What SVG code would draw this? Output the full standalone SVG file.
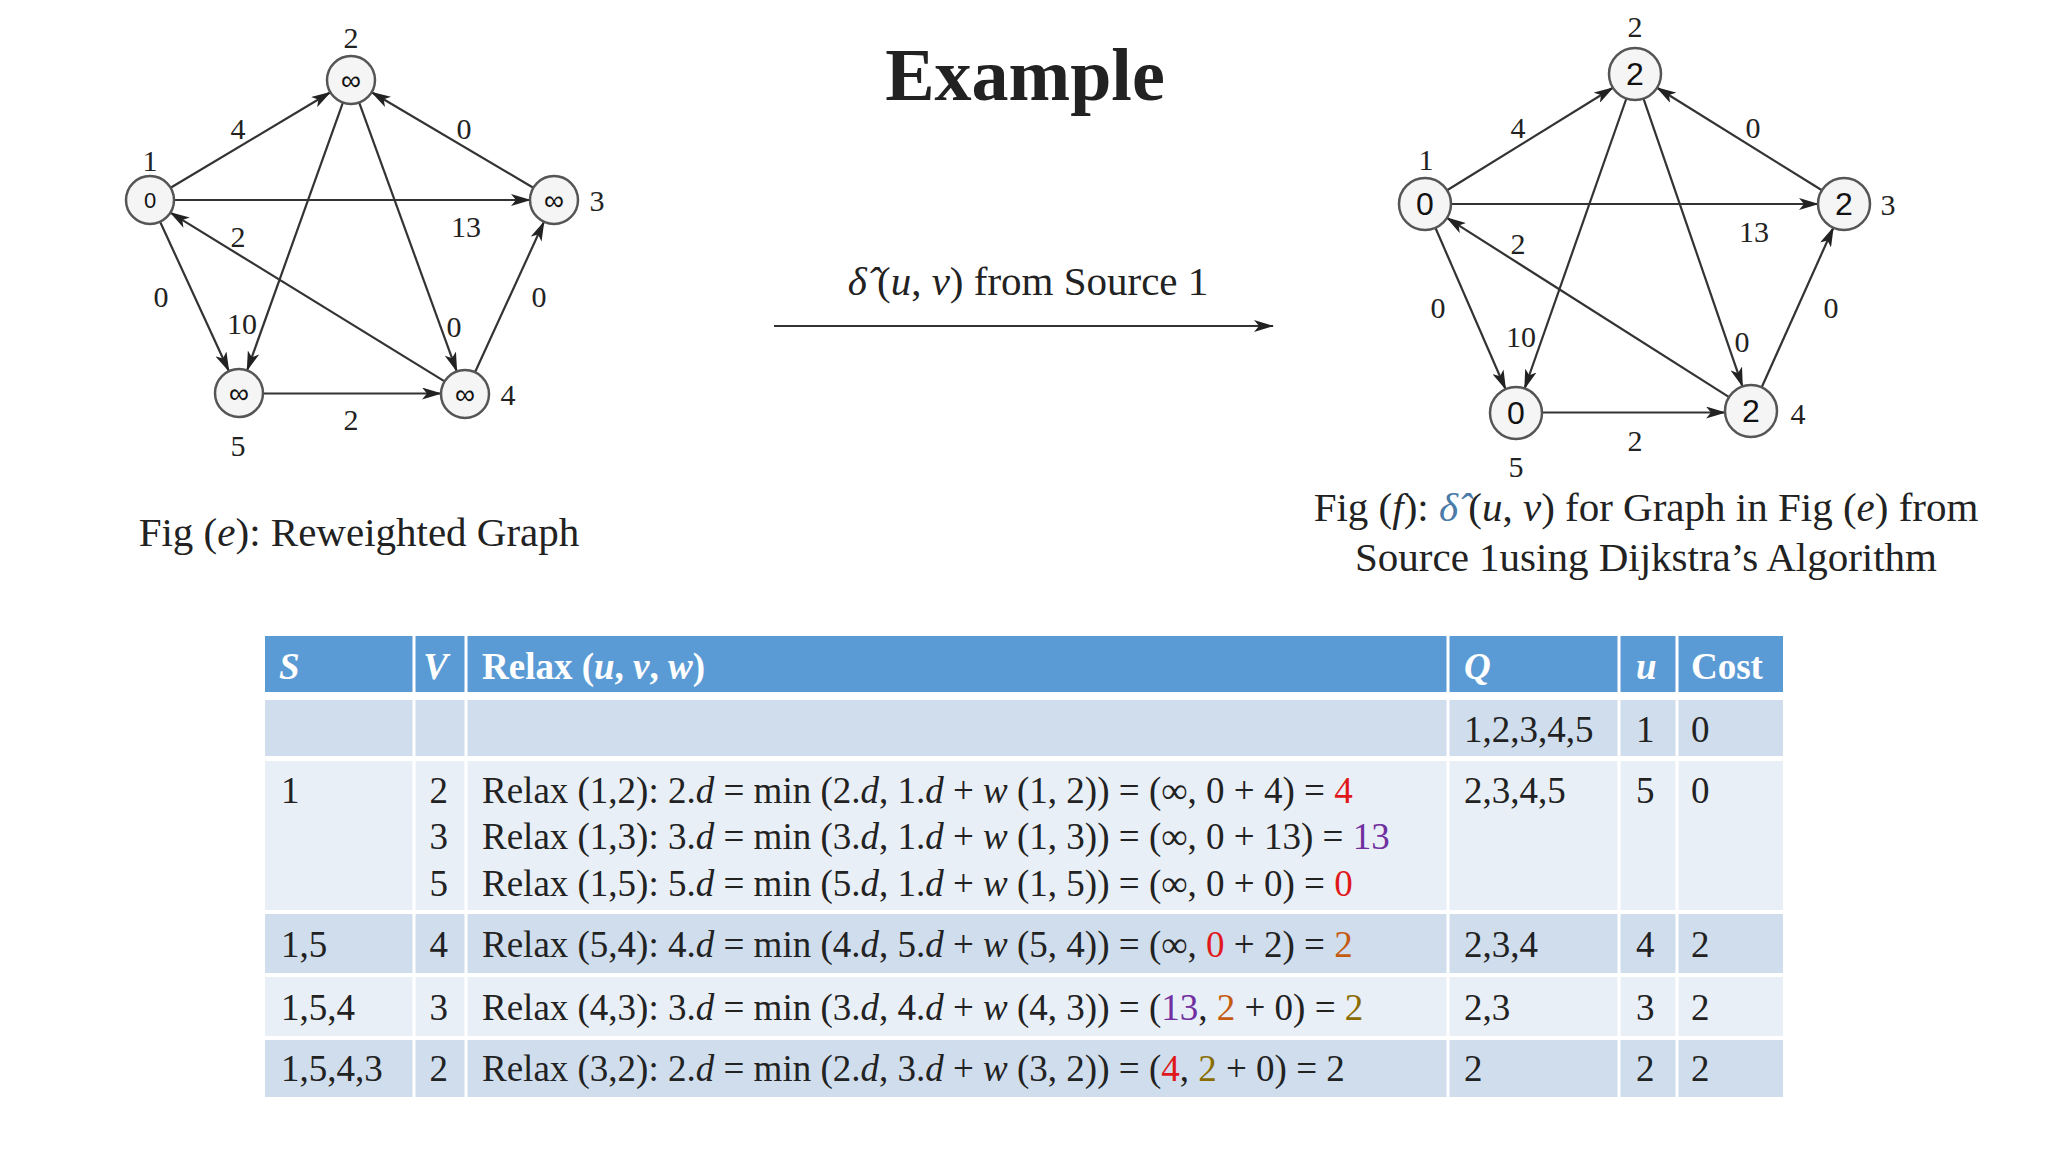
<svg xmlns="http://www.w3.org/2000/svg" width="2048" height="1152" viewBox="0 0 2048 1152">
<style>
.t{font-family:"Liberation Serif","Times New Roman",serif;fill:#222}
.lbl{font-size:30px;text-anchor:middle;dominant-baseline:central}
.nd{fill:#f5f5f5;stroke:#555;stroke-width:2.5}
.nv{font-family:"Liberation Sans",Arial,sans-serif;text-anchor:middle;dominant-baseline:central;fill:#111}
.e{stroke:#333;stroke-width:2.2;fill:none;marker-end:url(#ah)}
.tb{font-size:37px}
.hd{font-size:37px;fill:#fff;font-weight:bold}
.r{fill:#e0181b}.p{fill:#7030a0}.o{fill:#c55a11}.g{fill:#8a6d00}
</style>
<defs>
<marker id="ah" viewBox="0 0 20 12" refX="19" refY="6" markerWidth="20" markerHeight="12" markerUnits="userSpaceOnUse" orient="auto">
<path d="M0,0 L20,6 L0,12 L5,6 Z" fill="#222"/>
</marker>
</defs>
<rect width="2048" height="1152" fill="#fff"/>
<text class="t" x="1025" y="100" font-size="74" font-weight="bold" text-anchor="middle" fill="#000">Example</text>

<g id="connectors-left">
<line class="e" x1="170.6" y1="187.7" x2="330.4" y2="92.3"/>
<line class="e" x1="174" y1="200" x2="530" y2="200"/>
<line class="e" x1="160.1" y1="221.8" x2="228.9" y2="371.2"/>
<line class="e" x1="342.9" y1="102.6" x2="247.1" y2="370.4"/>
<line class="e" x1="359.2" y1="102.6" x2="456.8" y2="371.4"/>
<line class="e" x1="533.3" y1="187.8" x2="371.7" y2="92.2"/>
<line class="e" x1="444.6" y1="381.4" x2="170.4" y2="212.6"/>
<line class="e" x1="475" y1="372.2" x2="544" y2="221.8"/>
<line class="e" x1="263" y1="393.5" x2="441" y2="393.5"/>
</g>
<g id="edge-labels-left" class="t lbl">
<text x="238" y="128">4</text><text x="464" y="128">0</text><text x="466" y="226">13</text>
<text x="238" y="236">2</text><text x="161" y="296">0</text><text x="242" y="323">10</text>
<text x="454" y="326">0</text><text x="539" y="296">0</text><text x="351" y="419">2</text>
</g>
<g id="L1"><circle class="nd" cx="150" cy="200" r="24"/><text class="nv" x="150" y="200" font-size="22">0</text><text class="t lbl" x="150" y="160">1</text></g>
<g id="L2"><circle class="nd" cx="351" cy="80" r="24"/><text class="nv" x="351" y="80" font-size="28">∞</text><text class="t lbl" x="351" y="37">2</text></g>
<g id="L3"><circle class="nd" cx="554" cy="200" r="24"/><text class="nv" x="554" y="200" font-size="28">∞</text><text class="t lbl" x="597" y="200">3</text></g>
<g id="L4"><circle class="nd" cx="465" cy="394" r="24"/><text class="nv" x="465" y="394" font-size="28">∞</text><text class="t lbl" x="508" y="394">4</text></g>
<g id="L5"><circle class="nd" cx="239" cy="393" r="24"/><text class="nv" x="239" y="393" font-size="28">∞</text><text class="t lbl" x="238" y="445">5</text></g>
<text class="t" x="359" y="546" font-size="41" text-anchor="middle">Fig (<tspan font-style="italic">e</tspan>): Reweighted Graph</text>

<g id="middle">
<text class="t" x="1028" y="295" font-size="41" text-anchor="middle"><tspan font-style="italic">δ̂</tspan> (<tspan font-style="italic">u</tspan>, <tspan font-style="italic">v</tspan>) from Source 1</text>
<line x1="774" y1="326" x2="1273" y2="326" stroke="#333" stroke-width="2" marker-end="url(#ah)"/>
</g>

<g id="connectors-right">
<line class="e" x1="1447.1" y1="190.3" x2="1612.9" y2="87.7"/>
<line class="e" x1="1451" y1="204" x2="1818" y2="204"/>
<line class="e" x1="1435.4" y1="227.8" x2="1505.6" y2="389.2"/>
<line class="e" x1="1626.4" y1="98.5" x2="1524.6" y2="388.5"/>
<line class="e" x1="1643.5" y1="98.6" x2="1742.5" y2="386.4"/>
<line class="e" x1="1821.9" y1="190.3" x2="1657.1" y2="87.7"/>
<line class="e" x1="1729.1" y1="397.1" x2="1446.9" y2="217.9"/>
<line class="e" x1="1761.7" y1="387.3" x2="1833.3" y2="227.7"/>
<line class="e" x1="1542" y1="412.5" x2="1725" y2="412.5"/>
</g>
<g id="edge-labels-right" class="t lbl">
<text x="1518" y="127">4</text><text x="1753" y="127">0</text><text x="1754" y="231">13</text>
<text x="1518" y="243">2</text><text x="1438" y="307">0</text><text x="1521" y="336">10</text>
<text x="1742" y="341">0</text><text x="1831" y="307">0</text><text x="1635" y="440">2</text>
</g>
<g id="R1"><circle class="nd" cx="1425" cy="204" r="26"/><text class="nv" x="1425" y="204" font-size="32">0</text><text class="t lbl" x="1426" y="159">1</text></g>
<g id="R2"><circle class="nd" cx="1635" cy="74" r="26"/><text class="nv" x="1635" y="74" font-size="32">2</text><text class="t lbl" x="1635" y="26">2</text></g>
<g id="R3"><circle class="nd" cx="1844" cy="204" r="26"/><text class="nv" x="1844" y="204" font-size="32">2</text><text class="t lbl" x="1888" y="204">3</text></g>
<g id="R4"><circle class="nd" cx="1751" cy="411" r="26"/><text class="nv" x="1751" y="411" font-size="32">2</text><text class="t lbl" x="1798" y="413">4</text></g>
<g id="R5"><circle class="nd" cx="1516" cy="413" r="26"/><text class="nv" x="1516" y="413" font-size="32">0</text><text class="t lbl" x="1516" y="466">5</text></g>
<text class="t" x="1646" y="521" font-size="41" text-anchor="middle">Fig (<tspan font-style="italic">f</tspan>): <tspan font-style="italic" fill="#4a7aa8">δ̂</tspan> (<tspan font-style="italic">u</tspan>, <tspan font-style="italic">v</tspan>) for Graph in Fig (<tspan font-style="italic">e</tspan>) from</text>
<text class="t" x="1646" y="571" font-size="41" text-anchor="middle">Source 1using Dijkstra’s Algorithm</text>

<g id="table">
<rect x="265" y="636" width="1518" height="56" fill="#5b9bd5"/>
<rect x="265" y="700" width="1518" height="56" fill="#cfdded"/>
<rect x="265" y="761" width="1518" height="149" fill="#e9eff7"/>
<rect x="265" y="914" width="1518" height="59" fill="#cfdded"/>
<rect x="265" y="977" width="1518" height="59" fill="#e9eff7"/>
<rect x="265" y="1040" width="1518" height="57" fill="#cfdded"/>
<g stroke="#fff" stroke-width="3">
<line x1="414" y1="636" x2="414" y2="1097"/><line x1="466" y1="636" x2="466" y2="1097"/>
<line x1="1448" y1="636" x2="1448" y2="1097"/><line x1="1619" y1="636" x2="1619" y2="1097"/>
<line x1="1677" y1="636" x2="1677" y2="1097"/>
</g>
<g class="t hd">
<text x="279" y="679" font-style="italic">S</text>
<text x="448" y="679" font-style="italic" text-anchor="end">V</text>
<text x="482" y="679">Relax (<tspan font-style="italic">u</tspan>, <tspan font-style="italic">v</tspan>, <tspan font-style="italic">w</tspan>)</text>
<text x="1464" y="679" font-style="italic">Q</text>
<text x="1636" y="679" font-style="italic">u</text>
<text x="1691" y="679">Cost</text>
</g>
<g class="t tb">
<text x="1464" y="742">1,2,3,4,5</text><text x="1636" y="742">1</text><text x="1691" y="742">0</text>
<text x="281" y="803">1</text>
<text x="448" y="803" text-anchor="end">2</text>
<text x="482" y="803">Relax (1,2): 2.<tspan font-style="italic">d</tspan> = min (2.<tspan font-style="italic">d</tspan>, 1.<tspan font-style="italic">d</tspan> + <tspan font-style="italic">w</tspan> (1, 2)) = (∞, 0 + 4) = <tspan class="r">4</tspan></text>
<text x="448" y="849" text-anchor="end">3</text>
<text x="482" y="849">Relax (1,3): 3.<tspan font-style="italic">d</tspan> = min (3.<tspan font-style="italic">d</tspan>, 1.<tspan font-style="italic">d</tspan> + <tspan font-style="italic">w</tspan> (1, 3)) = (∞, 0 + 13) = <tspan class="p">13</tspan></text>
<text x="448" y="896" text-anchor="end">5</text>
<text x="482" y="896">Relax (1,5): 5.<tspan font-style="italic">d</tspan> = min (5.<tspan font-style="italic">d</tspan>, 1.<tspan font-style="italic">d</tspan> + <tspan font-style="italic">w</tspan> (1, 5)) = (∞, 0 + 0) = <tspan class="r">0</tspan></text>
<text x="1464" y="803">2,3,4,5</text><text x="1636" y="803">5</text><text x="1691" y="803">0</text>
<text x="281" y="957">1,5</text>
<text x="448" y="957" text-anchor="end">4</text>
<text x="482" y="957">Relax (5,4): 4.<tspan font-style="italic">d</tspan> = min (4.<tspan font-style="italic">d</tspan>, 5.<tspan font-style="italic">d</tspan> + <tspan font-style="italic">w</tspan> (5, 4)) = (∞, <tspan class="r">0</tspan> + 2) = <tspan class="o">2</tspan></text>
<text x="1464" y="957">2,3,4</text><text x="1636" y="957">4</text><text x="1691" y="957">2</text>
<text x="281" y="1020">1,5,4</text>
<text x="448" y="1020" text-anchor="end">3</text>
<text x="482" y="1020">Relax (4,3): 3.<tspan font-style="italic">d</tspan> = min (3.<tspan font-style="italic">d</tspan>, 4.<tspan font-style="italic">d</tspan> + <tspan font-style="italic">w</tspan> (4, 3)) = (<tspan class="p">13</tspan>, <tspan class="o">2</tspan> + 0) = <tspan class="g">2</tspan></text>
<text x="1464" y="1020">2,3</text><text x="1636" y="1020">3</text><text x="1691" y="1020">2</text>
<text x="281" y="1081">1,5,4,3</text>
<text x="448" y="1081" text-anchor="end">2</text>
<text x="482" y="1081">Relax (3,2): 2.<tspan font-style="italic">d</tspan> = min (2.<tspan font-style="italic">d</tspan>, 3.<tspan font-style="italic">d</tspan> + <tspan font-style="italic">w</tspan> (3, 2)) = (<tspan class="r">4</tspan>, <tspan class="g">2</tspan> + 0) = 2</text>
<text x="1464" y="1081">2</text><text x="1636" y="1081">2</text><text x="1691" y="1081">2</text>
</g>
</g>
</svg>
